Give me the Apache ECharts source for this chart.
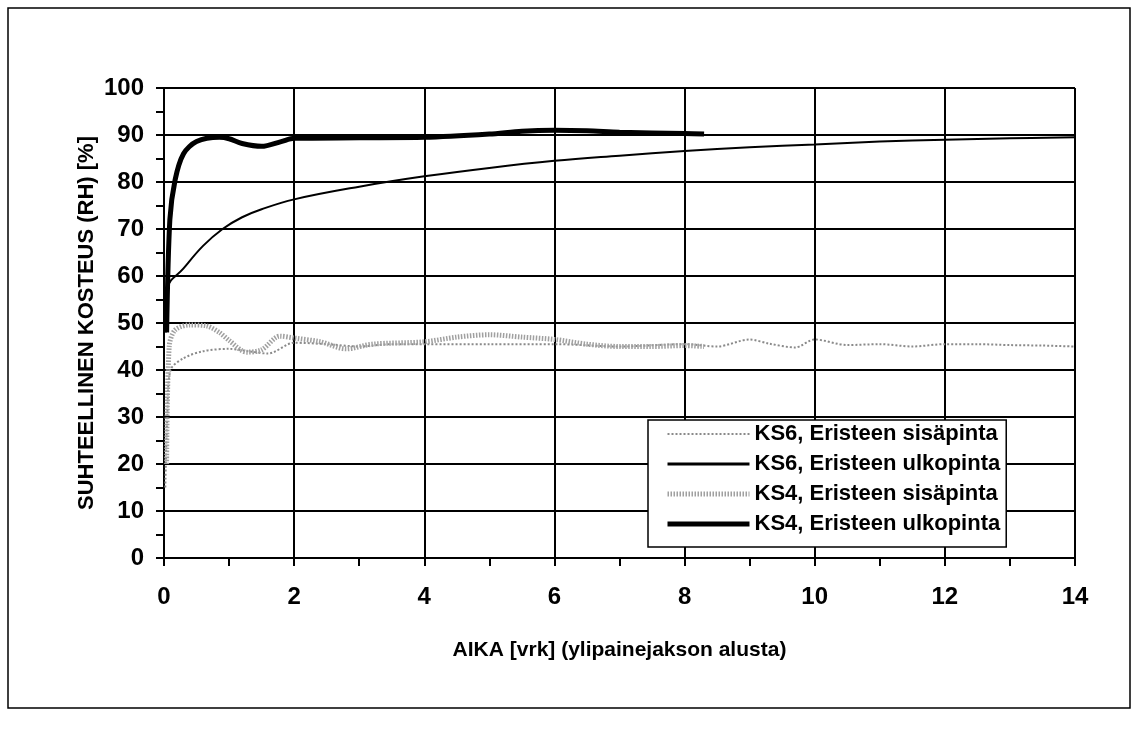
<!DOCTYPE html>
<html><head><meta charset="utf-8">
<script src="https://cdn.jsdelivr.net/npm/echarts@6/dist/echarts.min.js"></script>
<style>html,body{margin:0;padding:0;background:#fff}#c{width:1140px;height:740px}</style>
</head><body><div id="c"></div>
<script>
const seriesNames = ['KS6, Eristeen sisäpinta','KS6, Eristeen ulkopinta','KS4, Eristeen sisäpinta','KS4, Eristeen ulkopinta'];
const xTicks = [0,2,4,6,8,10,12,14];
const yTicks = [0,10,20,30,40,50,60,70,80,90,100];
const ks6Sisa = [[0.02,15],[0.05,30],[0.1,40],[0.3,42.5],[0.6,44],[1.0,44.5],[1.3,44],[1.6,43.5],[2.0,45.8],[2.5,45.5],[3.0,45],[3.5,45.5],[4.0,45.5],[5.0,45.5],[6.0,45.5],[7.0,45],[8.0,45.5],[8.5,45],[9.0,46.5],[9.3,45.6],[9.7,44.8],[10.0,46.5],[10.5,45.3],[11.0,45.5],[11.5,45],[12.0,45.5],[12.5,45.5],[13.0,45.3],[13.5,45.2],[14.0,45]];
const ks6Ulko = [[0.03,48],[0.06,57.5],[0.3,61.6],[0.6,66.4],[0.9,70],[1.2,72.5],[1.5,74.2],[2.0,76.3],[3.0,79],[4.0,81.2],[5.0,83],[6.0,84.5],[7.0,85.6],[8.0,86.6],[9.0,87.4],[10.0,88],[11.0,88.6],[12.0,89],[13.0,89.3],[14.0,89.5]];
const ks4Sisa = [[0.04,20],[0.08,45],[0.17,48.5],[0.4,49.6],[0.65,49.4],[0.85,48],[1.0,46.3],[1.27,43.8],[1.5,44.3],[1.78,47.2],[2.0,46.8],[2.4,46],[2.8,44.5],[3.2,45.5],[4.0,46],[4.5,47],[5.0,47.5],[5.5,47],[6.0,46.5],[6.5,45.5],[7.0,45],[7.5,45],[8.0,45.2],[8.3,45]];
const ks4Ulko = [[0.04,48],[0.09,72],[0.17,80.4],[0.3,86],[0.5,88.6],[0.85,89.5],[1.0,89.2],[1.2,88.2],[1.5,87.6],[1.8,88.6],[2.0,89.3],[3.0,89.4],[4.0,89.5],[5.0,90.2],[5.5,90.8],[6.0,91],[6.5,90.9],[7.0,90.6],[8.0,90.3],[8.3,90.2]];

const chart = echarts.init(document.getElementById('c'));
const F = '"Liberation Sans", Arial, sans-serif';
function xAx(inside, main){
  return {type:'value',min:0,max:14,interval:2,
    axisLine:{show:main,lineStyle:{color:'#000',width:2}},
    axisTick:{show:true,inside:inside,length:8,lineStyle:{color:'#000',width:2}},
    minorTick:{show:true,splitNumber:2,length:8,lineStyle:{color:'#000',width:2}},
    splitLine:{show:main,lineStyle:{color:'#000',width:2}},
    axisLabel:{show:main,margin:27,color:'#000',fontFamily:F,fontWeight:'bold',fontSize:24,
      formatter:v=>xTicks.includes(v)?String(v):''},
    name: main?'AIKA [vrk] (ylipainejakson alusta)':'',nameLocation:'middle',nameGap:82,nameMoveOverlap:false,
    nameTextStyle:{color:'#000',fontFamily:F,fontWeight:'bold',fontSize:21}};
}
function yAx(inside, main){
  return {type:'value',min:0,max:100,interval:10,
    axisLine:{show:main,lineStyle:{color:'#000',width:2}},
    axisTick:{show:true,inside:inside,length:8,lineStyle:{color:'#000',width:2}},
    minorTick:{show:true,splitNumber:2,length:8,lineStyle:{color:'#000',width:2}},
    splitLine:{show:main,lineStyle:{color:'#000',width:2}},
    axisLabel:{show:main,margin:20,color:'#000',fontFamily:F,fontWeight:'bold',fontSize:24,
      formatter:v=>yTicks.includes(v)?String(v):''},
    name: main?'SUHTEELLINEN KOSTEUS (RH) [%]':'',nameLocation:'middle',nameGap:66,nameRotate:90,nameMoveOverlap:false,
    nameTextStyle:{color:'#000',fontFamily:F,fontWeight:'bold',fontSize:22}};
}
chart.setOption({
  animation:false,
  backgroundColor:'#fff',
  graphic:[{type:'rect',shape:{x:8,y:8,width:1122,height:700},style:{fill:'none',stroke:'#000',lineWidth:1.5},silent:true}],
  grid:{left:164,right:65,top:88,bottom:182},
  xAxis:[xAx(false,true),xAx(true,false)],
  yAxis:[yAx(false,true),yAx(true,false)],
  legend:{orient:'vertical',left:648,top:420,
    backgroundColor:'#fff',borderColor:'#000',borderWidth:1.5,padding:[3,6,12,17],
    itemWidth:82,itemHeight:22,itemGap:8,
    itemStyle:{opacity:0},
    textStyle:{color:'#000',fontFamily:F,fontWeight:'bold',fontSize:22,lineHeight:22},
    data:[
      {name:seriesNames[0],lineStyle:{width:2,color:'#8a8a8a',type:[2,2]}},
      {name:seriesNames[1],lineStyle:{width:3,color:'#000'}},
      {name:seriesNames[2],lineStyle:{width:5,color:'#a0a0a0',type:[1.5,1.5]}},
      {name:seriesNames[3],lineStyle:{width:5,color:'#000'}}
    ]},
  series:[
    {name:seriesNames[0],type:'line',data:ks6Sisa,smooth:0.3,showSymbol:false,symbol:'none',
      lineStyle:{color:'#8a8a8a',width:2,type:[2,2]},z:3},
    {name:seriesNames[1],type:'line',data:ks6Ulko,smooth:0.4,showSymbol:false,symbol:'none',
      lineStyle:{color:'#000',width:2},z:4},
    {name:seriesNames[2],type:'line',data:ks4Sisa,smooth:0.3,showSymbol:false,symbol:'none',
      lineStyle:{color:'#a0a0a0',width:5,type:[1.5,1.5]},z:3},
    {name:seriesNames[3],type:'line',data:ks4Ulko,smooth:0.3,showSymbol:false,symbol:'none',
      lineStyle:{color:'#000',width:5},z:5}
  ]
});
</script></body></html>
